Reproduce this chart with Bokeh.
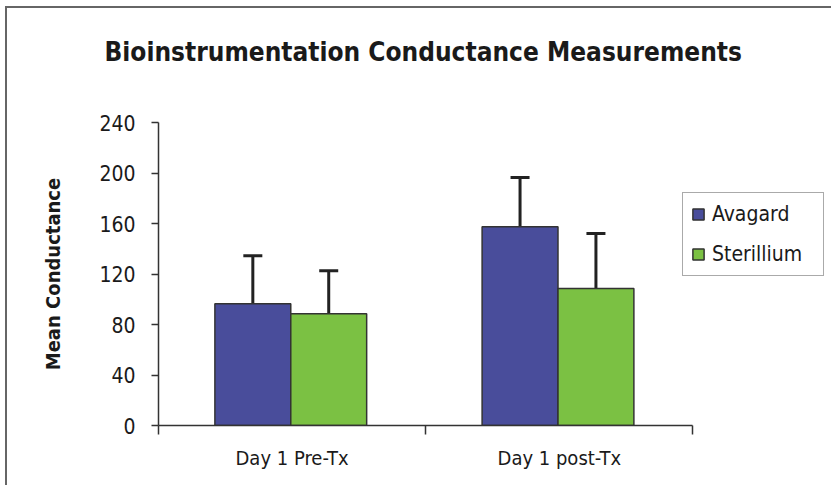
from bokeh.plotting import figure
from bokeh.models import Range1d, FixedTicker, Legend, LegendItem, ColumnDataSource, Whisker, Title
from bokeh.transform import dodge
from bokeh.embed import file_html
from bokeh.resources import INLINE

categories = ["Day 1 Pre-Tx", "Day 1 post-Tx"]
series = ["Avagard", "Sterillium"]
avagard = [96.5, 157.5]
avagard_err = [38.0, 39.0]
sterillium = [88.5, 108.5]
sterillium_err = [34.0, 43.5]
colors = ["#494D9B", "#7BC143"]
y_ticks = [0, 40, 80, 120, 160, 200, 240]
title_text = "Bioinstrumentation Conductance Measurements"

FONT = "DejaVu Sans Condensed"

xpos = [i + 0.5 for i in range(len(categories))]
src = ColumnDataSource(dict(
    x=xpos,
    av=avagard, av_lo=[v - e for v, e in zip(avagard, avagard_err)], av_hi=[v + e for v, e in zip(avagard, avagard_err)],
    st=sterillium, st_lo=[v - e for v, e in zip(sterillium, sterillium_err)], st_hi=[v + e for v, e in zip(sterillium, sterillium_err)],
))

n = len(categories)
p = figure(width=826, height=479, output_backend="svg", toolbar_location=None, title_location=None,
           x_range=Range1d(0, n * 1.263), y_range=Range1d(0, 240),
           min_border_left=151, min_border_right=0, min_border_top=114, min_border_bottom=62)
# spacer title (closest to the frame), then the visible title above it
p.add_layout(Title(text=" ", text_font=FONT, text_font_size="10px", standoff=38), "above")
p.add_layout(Title(text=title_text, align="left", offset=-54,
                   text_font=FONT, text_font_size="26px", text_font_style="bold", text_color="#1a1a1a",
                   standoff=10), "above")
p.outline_line_color = None
p.grid.visible = False
p.background_fill_color = "white"
p.border_fill_color = "white"
p.styles = {"margin-left": "5px", "margin-top": "6px",
            "border-left": "2px solid #666666", "border-top": "2px solid #666666"}

W = 0.284
r1 = p.vbar(x=dodge("x", -0.147, range=p.x_range), top="av", width=W, source=src,
            fill_color=colors[0], line_color="#333333", line_width=1.5)
r2 = p.vbar(x=dodge("x", 0.137, range=p.x_range), top="st", width=W, source=src,
            fill_color=colors[1], line_color="#333333", line_width=1.5)

for off, lo, hi in [(-0.147, "av_lo", "av_hi"), (0.137, "st_lo", "st_hi")]:
    w = Whisker(base=dodge("x", off, range=p.x_range), lower=lo, upper=hi, source=src,
                line_color="#222222", line_width=3, dimension="height")
    for h in (w.upper_head, w.lower_head):
        h.size = 19
        h.line_width = 3
        h.line_color = "#222222"
    p.add_layout(w)

# axes
p.xaxis.bounds = (0, n)
p.xaxis.ticker = FixedTicker(ticks=xpos, minor_ticks=list(range(n + 1)))
p.xaxis.major_label_overrides = {x: c for x, c in zip(xpos, categories)}
p.xaxis.major_tick_out = 0
p.xaxis.major_tick_in = 0
p.xaxis.minor_tick_out = 9
p.xaxis.minor_tick_in = 0
p.xaxis.minor_tick_line_color = "#333333"
p.xaxis.minor_tick_line_width = 1.5
p.xaxis.major_label_standoff = 11
p.xaxis.major_label_text_font = FONT
p.xaxis.major_label_text_font_size = "20px"
p.xaxis.major_label_text_color = "#1a1a1a"

p.yaxis.ticker = FixedTicker(ticks=y_ticks, minor_ticks=[])
p.yaxis.major_tick_out = 7
p.yaxis.major_tick_in = 0
p.yaxis.major_label_standoff = 16
p.yaxis.major_label_text_font = FONT
p.yaxis.major_label_text_font_size = "21px"
p.yaxis.major_label_text_color = "#1a1a1a"
p.yaxis.axis_label = "Mean Conductance"
p.yaxis.axis_label_text_font = FONT
p.yaxis.axis_label_text_font_size = "20px"
p.yaxis.axis_label_text_font_style = "bold"
p.yaxis.axis_label_text_color = "#1a1a1a"
p.yaxis.axis_label_standoff = 31
for ax in (p.xaxis, p.yaxis):
    ax.axis_line_color = "#333333"
    ax.axis_line_width = 1.5
    ax.major_tick_line_color = "#333333"
    ax.major_tick_line_width = 1.5

legend = Legend(items=[LegendItem(label=series[0], renderers=[r1]), LegendItem(label=series[1], renderers=[r2])],
                location=(524, 149), orientation="vertical",
                label_text_font=FONT, label_text_font_size="21px", label_text_color="#1a1a1a",
                border_line_color="#555555", border_line_width=1.5,
                glyph_width=14, glyph_height=14, spacing=14, padding=8, margin=0,
                label_standoff=7, label_height=26, label_width=103)
p.add_layout(legend, "center")

open("out.html", "w").write(file_html(p, INLINE))
